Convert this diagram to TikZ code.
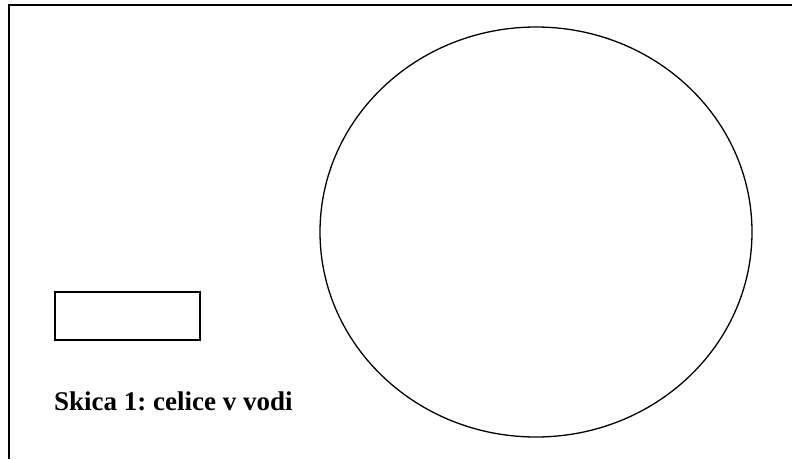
\documentclass[tikz,border=0pt]{standalone}
\usepackage{fontspec}
\setmainfont{Liberation Serif}
\frenchspacing
\begin{document}
\begin{tikzpicture}[x=1pt,y=-1pt,
  frameline/.style={line width=2pt},
  shapeline/.style={line width=1.3pt}]
\useasboundingbox (0,0) rectangle (792,459);
\draw[frameline] (8.5,459) -- (8.5,5) -- (792,5);
\draw[shapeline] (55,292) rectangle (200,340);
\draw[shapeline] (536,232) ellipse [x radius=216, y radius=205];
\node[anchor=base west, inner sep=0pt, font=\bfseries\fontsize{27}{32}\selectfont] (cap) at (54,410) {Skica 1: celice v vodi};
\end{tikzpicture}
\end{document}
